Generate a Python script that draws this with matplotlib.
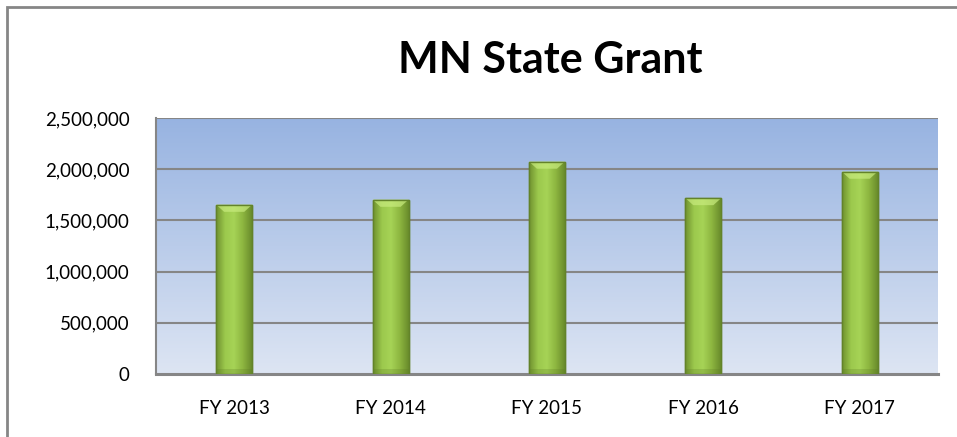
import numpy as np
import matplotlib
matplotlib.use("Agg")
import matplotlib.pyplot as plt
import matplotlib.ticker as mticker
from matplotlib.patches import Rectangle, Polygon
from matplotlib.colors import LinearSegmentedColormap

# Datos de la grafica
categorias = ["FY 2013", "FY 2014", "FY 2015", "FY 2016", "FY 2017"]
valores = [1654000, 1703000, 2075000, 1719000, 1977000]
titulo = "MN State Grant"
ticks_y = [0, 500000, 1000000, 1500000, 2000000, 2500000]

plt.rcParams['font.family'] = ['Lato', 'DejaVu Sans']

fig = plt.figure(figsize=(9.57, 4.37), dpi=100)
ax = fig.add_axes([0.163, 0.144, 0.817, 0.586])

x = np.arange(len(categorias))
ax.set_xlim(-0.5, len(categorias) - 0.5)
ax.set_ylim(0, 2500000)

# Fondo con degradado azul
fondo = LinearSegmentedColormap.from_list("fondo", ["#dde5f3", "#97b3e1"])
ax.imshow(np.linspace(0, 1, 256).reshape(-1, 1), cmap=fondo, aspect="auto",
          extent=[-0.5, len(categorias) - 0.5, 0, 2500000], origin="lower", zorder=0)

# Lineas de la cuadricula
for t in ticks_y[1:]:
    ax.axhline(t, color="#868686", lw=1.5, zorder=1)

# Barras con degradado verde
verde = LinearSegmentedColormap.from_list("verde", ["#6f922f", "#9cc94d", "#a6d356", "#8db640", "#6a8c2c"])
barras = ax.bar(x, valores, width=0.23, color="#92bb45", edgecolor="#63832a", lw=1.0, zorder=2)
grad = np.linspace(0, 1, 64).reshape(1, -1)
for b in barras:
    x0, w, h = b.get_x(), b.get_width(), b.get_height()
    im = ax.imshow(grad, cmap=verde, aspect="auto", extent=[x0, x0 + w, 0, h], zorder=3)
    im.set_clip_path(b)
    # sombra inferior
    ax.add_patch(Rectangle((x0, 0), w, 50000, color="#5c7a25", alpha=0.25, lw=0, zorder=4))
    # bisel superior
    ax.add_patch(Polygon([(x0, h), (x0 + w, h), (x0 + w * 0.78, h - 70000), (x0 + w * 0.22, h - 70000)],
                         closed=True, color="#c8eb7e", alpha=0.7, lw=0, zorder=4))
    ax.add_patch(Rectangle((x0, 0), w, h, fill=False, edgecolor="#63832a", lw=1.0, zorder=5))

ax.set_xticks(x)
ax.set_xticklabels(categorias, fontsize=13.5)
ax.set_yticks(ticks_y)
ax.yaxis.set_major_formatter(mticker.FuncFormatter(lambda v, p: f"{int(v):,}"))
ax.tick_params(axis="y", labelsize=13.5, length=0, pad=19)
ax.tick_params(axis="x", length=0, pad=19)

for s in ["top", "right"]:
    ax.spines[s].set_visible(False)
ax.spines["left"].set_color("#868686")
ax.spines["left"].set_linewidth(1.5)
ax.spines["bottom"].set_color("#868686")
ax.spines["bottom"].set_linewidth(2.2)

fig.text(0.575, 0.862, titulo, ha="center", va="center", fontsize=31, fontweight="bold")

# Marco exterior de la grafica
fig.patches.append(Rectangle((7 / 957, -0.05), 1.2, 1 - 7 / 437 + 0.05, transform=fig.transFigure,
                             fill=False, edgecolor="#868686", lw=2.0))

plt.savefig("out.png", dpi=100)
